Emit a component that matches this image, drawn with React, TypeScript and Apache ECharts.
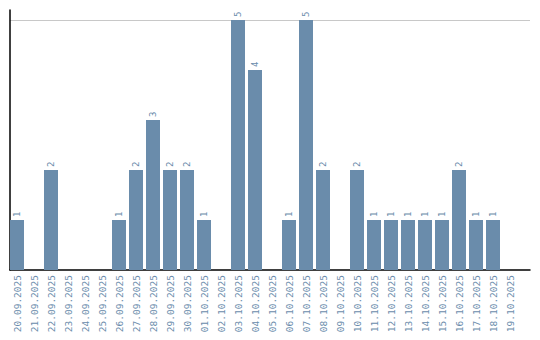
import React, { useEffect, useRef } from "react";
import * as echarts from "echarts";

const categories = [
  "20.09.2025", "21.09.2025", "22.09.2025", "23.09.2025", "24.09.2025",
  "25.09.2025", "26.09.2025", "27.09.2025", "28.09.2025", "29.09.2025",
  "30.09.2025", "01.10.2025", "02.10.2025", "03.10.2025", "04.10.2025",
  "05.10.2025", "06.10.2025", "07.10.2025", "08.10.2025", "09.10.2025",
  "10.10.2025", "11.10.2025", "12.10.2025", "13.10.2025", "14.10.2025",
  "15.10.2025", "16.10.2025", "17.10.2025", "18.10.2025", "19.10.2025",
];
const values = [1, 0, 2, 0, 0, 0, 1, 2, 3, 2, 2, 1, 0, 5, 4, 0, 1, 5, 2, 0, 2, 1, 1, 1, 1, 1, 2, 1, 1, 0];
const yMax = 5.2;
const yInterval = 5;
const yTickLabels = ["5"];

const BLUE = "#6a8cab";
const MONO = "'DejaVu Sans Mono', monospace";

export default function App() {
  const ref = useRef<HTMLDivElement>(null);
  useEffect(() => {
    if (!ref.current) return;
    const chart = echarts.init(ref.current, null, { renderer: "svg" });
    chart.setOption({
      animation: false,
      grid: [
        { left: 8.5, width: 510, top: 10, bottom: 70, outerBoundsMode: "none", containLabel: false },
        { left: 10, right: 10, top: 10, bottom: 70, outerBoundsMode: "none", containLabel: false },
      ],
      xAxis: [
        {
          type: "category",
          gridIndex: 0,
          data: categories,
          axisLine: { show: false },
          axisTick: { show: false },
          axisLabel: {
            rotate: 90,
            interval: 0,
            margin: 5,
            color: BLUE,
            fontFamily: MONO,
            fontSize: 9.5,
          },
        },
        {
          type: "value",
          gridIndex: 1,
          min: 0,
          max: 1,
          axisLine: { show: true, onZero: false, lineStyle: { color: "#000", width: 1.5 } },
          axisTick: { show: false },
          axisLabel: { show: false },
          splitLine: { show: false },
        },
      ],
      yAxis: [
        {
          type: "value",
          gridIndex: 0,
          min: 0,
          max: yMax,
          interval: yInterval,
          show: false,
        },
        {
          type: "value",
          gridIndex: 1,
          min: 0,
          max: yMax,
          interval: yInterval,
          axisLine: { show: true, lineStyle: { color: "#000", width: 1.5 } },
          axisTick: { show: false },
          axisLabel: { show: false },
          splitLine: {
            show: true,
            showMinLine: false,
            showMaxLine: false,
            lineStyle: { color: "#c8c8c8", width: 1 },
          },
        },
      ],
      series: [
        {
          type: "bar",
          xAxisIndex: 0,
          yAxisIndex: 0,
          data: values,
          barWidth: 14,
          itemStyle: { color: BLUE },
          label: {
            show: true,
            position: "top",
            rotate: 90,
            align: "left",
            verticalAlign: "middle",
            distance: 3,
            color: BLUE,
            fontFamily: MONO,
            fontSize: 9,
            formatter: (p: any) => (p.value ? String(p.value) : ""),
          },
        },
      ],
    });
    const py = chart.convertToPixel({ yAxisIndex: 1 }, yInterval);
    const labelY = typeof py === "number" && isFinite(py) ? py : 20;
    chart.setOption({
      graphic: yTickLabels.map((t) => ({
        type: "group",
        x: 4.5,
        y: labelY + 3,
        rotation: Math.PI / 2,
        z: 100,
        children: [
          {
            type: "text",
            x: 0,
            y: 0,
            style: {
              text: t,
              fill: "#222",
              fontSize: 8,
              fontFamily: MONO,
              align: "center",
              verticalAlign: "middle",
            },
          },
        ],
      })),
    });
    return () => chart.dispose();
  }, []);
  return <div ref={ref} style={{ width: 540, height: 340, margin: -8 }} />;
}
